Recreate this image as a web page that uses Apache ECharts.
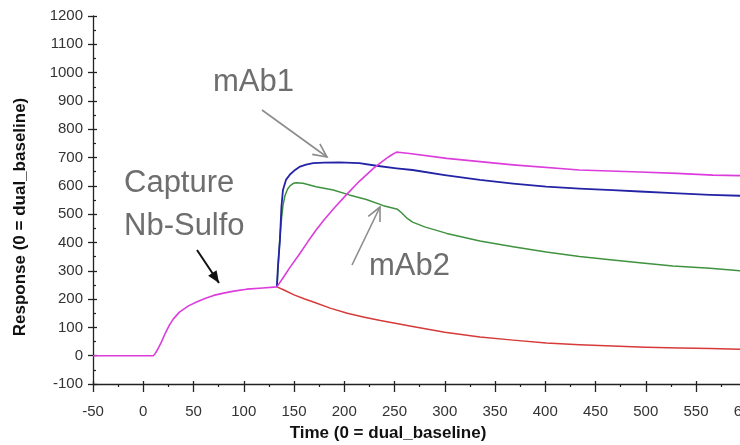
<!DOCTYPE html>
<html lang="en">
<head>
    <meta charset="utf-8">
    <title>Capture sensorgram</title>
    <script src="https://cdn.jsdelivr.net/npm/echarts/dist/echarts.min.js"></script>
    <style type="text/css">
        html, body {
            width: 100%;
            height: 100%;
            margin: 0px;
            padding: 0px;
            background: #fff;
        }

        #main {
            width: 740px;
            height: 445px;
        }
    </style>
</head>
<body>
<div id="main"></div>
<script>
    // capture step (shared by all curves)
    var captureTime = [-50, 10, 12, 14, 18, 22, 26, 30, 36, 45, 53, 62, 70, 80, 90, 103, 119, 133];
    var captureResp = [0, 0, 8, 20, 48, 80, 108, 130, 154, 176, 190, 203, 213, 221, 228, 235, 239, 243];

    // mAb1 (blue)
    var mAb1Time = [133, 134, 136, 137.5, 139, 142, 146, 150, 156, 162, 169, 180, 195, 215, 232, 252, 268, 300, 335, 368, 401, 434, 467, 494, 527, 564, 594, 650];
    var mAb1Resp = [243, 314, 409, 526, 585, 621, 640, 653, 668, 675, 680, 682, 683, 680, 671, 662, 656, 638, 621, 608, 597, 590, 585, 580, 574, 568, 565, 556];

    // mAb2 (green)
    var mAb2Time = [133, 134.5, 136, 137.5, 139, 141, 143.5, 146, 149, 152, 159, 172, 189, 205, 222, 239, 248, 253, 257, 262, 268, 280, 302, 335, 368, 401, 434, 467, 494, 527, 564, 594, 650];
    var mAb2Resp = [243, 330, 420, 480, 530, 565, 588, 600, 608, 611, 609, 597, 585, 568, 552, 530, 522, 517, 505, 487, 472, 455, 432, 405, 385, 366, 350, 338, 328, 317, 309, 300, 290];

    // magenta
    var magTime = [133, 140, 146, 156, 164, 172, 180, 190, 202, 215, 229, 236, 242, 247, 252, 256, 265, 302, 368, 434, 494, 531, 567, 594, 650];
    var magResp = [243, 280, 312, 362, 404, 444, 480, 522, 568, 616, 662, 681, 697, 709, 719, 718, 714, 697, 674, 656, 649, 644, 638, 636, 628];

    // red
    var redTime = [133, 140, 150, 160, 170, 186, 203, 220, 236, 268, 300, 335, 368, 401, 434, 467, 500, 534, 564, 594, 650];
    var redResp = [243, 232, 215, 201, 189, 168, 150, 136, 124, 103, 83, 66, 55, 45, 39, 34, 30, 27, 25, 23, 20];

    function pairs(ts, ys) {
        return ts.map(function (t, i) { return [t, ys[i]]; });
    }

    var axisColor = '#222';
    var labelFont = 'Liberation Sans';

    // arrow = line + head
    function arrow(x1, y1, x2, y2, color, filled) {
        var a = Math.atan2(y1 - y2, x1 - x2);
        var len = filled ? 13 : 15;
        var w = filled ? 0.4 : 0.45;
        var p1 = [x2 + len * Math.cos(a + w), y2 + len * Math.sin(a + w)];
        var p2 = [x2 + len * Math.cos(a - w), y2 + len * Math.sin(a - w)];
        var items = [{
            type: 'line',
            shape: {x1: x1, y1: y1, x2: x2, y2: y2},
            style: {stroke: color, lineWidth: filled ? 2 : 1.6}
        }];
        if (filled) {
            items.push({type: 'polygon', shape: {points: [p1, [x2, y2], p2]}, style: {fill: color}});
        } else {
            items.push({type: 'polyline', shape: {points: [p1, [x2, y2], p2]}, style: {stroke: color, lineWidth: 1.6, fill: null}});
        }
        return items;
    }

    function note(text, x, y) {
        return {
            type: 'text', x: x, y: y,
            style: {text: text, fill: '#6e6e6e', font: '31px "Liberation Sans"', verticalAlign: 'middle'}
        };
    }

    var gray = '#8c8c8c';
    var graphics = [
        note('mAb1', 213, 82),
        note('Capture', 124, 183),
        note('Nb-Sulfo', 124, 226),
        note('mAb2', 369, 266),
        {
            type: 'text', x: 388, y: 433,
            style: {text: 'Time (0 = dual_baseline)', fill: '#111', font: 'bold 17px "Liberation Sans"', align: 'center', verticalAlign: 'middle'}
        },
        {
            type: 'text', x: 20, y: 217, rotation: Math.PI / 2,
            style: {text: 'Response (0 = dual_baseline)', fill: '#111', font: 'bold 17px "Liberation Sans"', align: 'center', verticalAlign: 'middle'}
        }
    ].concat(arrow(262, 110, 327, 157, gray, false))
        .concat(arrow(352, 265, 380, 207, gray, false))
        .concat(arrow(197, 250, 219, 283, '#111', true));

    function lineSeries(name, data, color, width) {
        return {
            name: name,
            type: 'line',
            data: data,
            xAxisIndex: 0,
            yAxisIndex: 0,
            showSymbol: false,
            smooth: false,
            silent: true,
            lineStyle: {color: color, width: width, join: 'round'}
        };
    }

    function plain(v) { return String(v); }

    var myChart = echarts.init(document.getElementById('main'));
    myChart.setOption({
        animation: false,
        grid: {left: 93, top: 16, width: 703.5, height: 368, outerBoundsMode: 'none', containLabel: false},
        xAxis: [
            {
                type: 'value', min: -50, max: 650, interval: 50, position: 'bottom',
                axisLine: {onZero: false, lineStyle: {color: axisColor, width: 1.3}},
                axisTick: {length: 8, lineStyle: {color: axisColor, width: 1.3}},
                minorTick: {show: true, splitNumber: 2, length: 3, lineStyle: {color: axisColor, width: 1.2}},
                axisLabel: {margin: 20, fontSize: 15, color: '#333', fontFamily: labelFont, formatter: plain},
                splitLine: {show: false}
            },
            {
                type: 'value', min: -50, max: 650, interval: 50, position: 'bottom',
                axisLine: {show: false, onZero: false},
                axisTick: {inside: true, length: 3, lineStyle: {color: axisColor, width: 1.3}},
                axisLabel: {show: false},
                splitLine: {show: false}
            }
        ],
        yAxis: [
            {
                type: 'value', min: -100, max: 1200, interval: 100, position: 'left',
                axisLine: {onZero: false, lineStyle: {color: axisColor, width: 1.3}},
                axisTick: {length: 5, lineStyle: {color: axisColor, width: 1.3}},
                axisLabel: {margin: 10, fontSize: 15, color: '#333', fontFamily: labelFont, formatter: plain},
                splitLine: {show: false}
            },
            {
                type: 'value', min: -100, max: 1200, interval: 100, position: 'left',
                axisLine: {show: false, onZero: false},
                axisTick: {inside: true, length: 4, lineStyle: {color: axisColor, width: 1.3}},
                minorTick: {show: true, splitNumber: 2, length: 3, lineStyle: {color: axisColor, width: 1.2}},
                axisLabel: {show: false},
                splitLine: {show: false}
            }
        ],
        series: [
            lineSeries('ref', pairs(redTime, redResp), '#d63a3a', 1.5),
            lineSeries('mAb2', pairs(mAb2Time, mAb2Resp), '#3f923f', 1.5),
            lineSeries('mAb1', pairs(mAb1Time, mAb1Resp), '#2323a6', 1.8),
            lineSeries('capture', pairs(captureTime, captureResp).concat(pairs(magTime.slice(1), magResp.slice(1))), '#dc3cdc', 1.6)
        ],
        graphic: graphics
    });
</script>
</body>
</html>
